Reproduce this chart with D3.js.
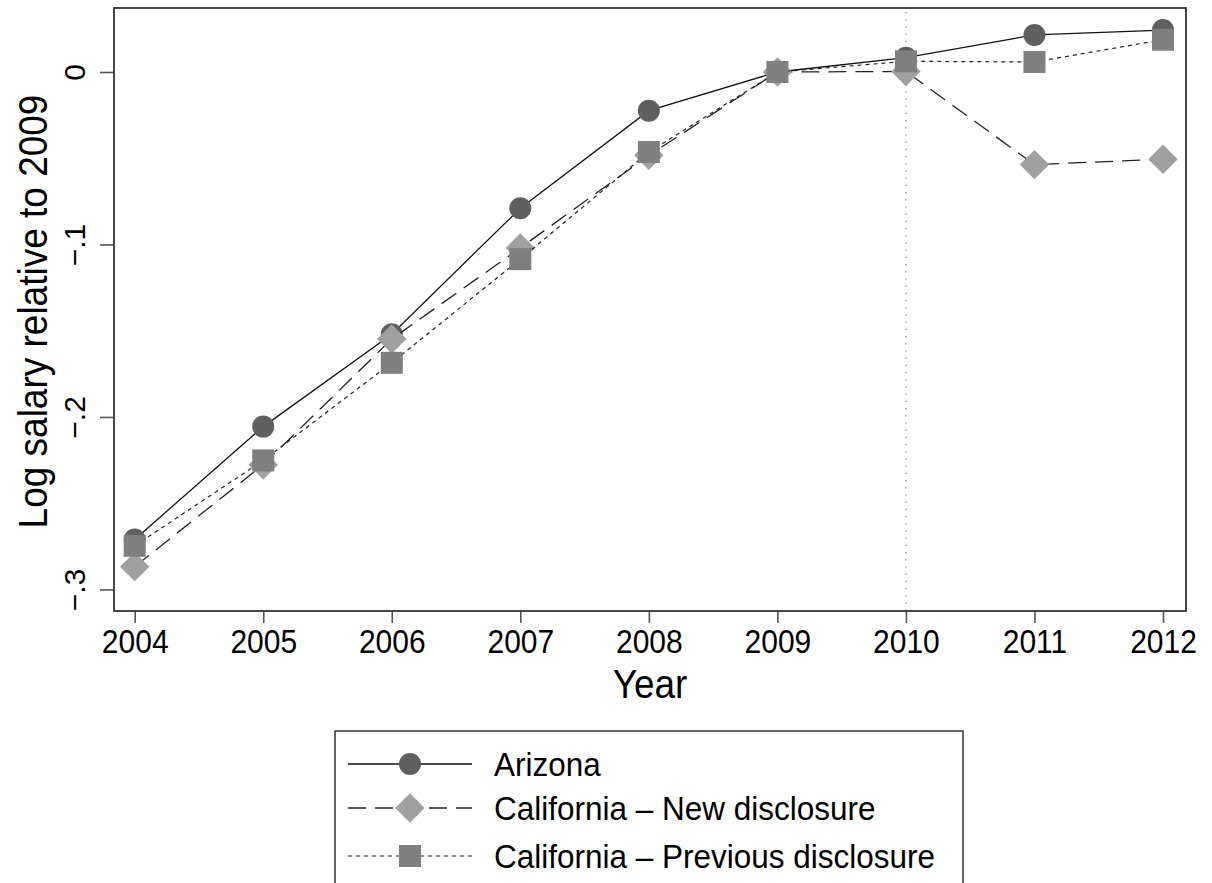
<!DOCTYPE html>
<html>
<head>
<meta charset="utf-8">
<script src="https://cdn.jsdelivr.net/npm/d3@7/dist/d3.min.js"></script>
<style>
  html, body { margin: 0; padding: 0; background: #fff; }
  svg { display: block; font-family: "Liberation Sans", Arial, Helvetica, sans-serif; }
</style>
</head>
<body>
<svg id="chart" width="1212" height="883"></svg>
<script>
// Years on the horizontal axis
const years = [2004, 2005, 2006, 2007, 2008, 2009, 2010, 2011, 2012];

// Log salary relative to 2009, one array per group
const arizona  = [-0.2710, -0.2056, -0.1520, -0.0790, -0.0224, 0, 0.0083, 0.0215, 0.0243];
const caNew    = [-0.2868, -0.2277, -0.1548, -0.1020, -0.0483, 0, 0.0003, -0.0537, -0.0506];
const caPrev   = [-0.2747, -0.2252, -0.1686, -0.1085, -0.0464, 0, 0.0062, 0.0058, 0.0187];

// Axis ticks and labels
const yTicks = [0, -0.1, -0.2, -0.3];
const yTickLabels = ["0", "\u2212.1", "\u2212.2", "\u2212.3"];
const xTicks = years;
const eventYear = 2010;

const seriesNames = ["Arizona", "California \u2013 New disclosure", "California \u2013 Previous disclosure"];

const svg = d3.select("#chart");

// Plot frame and scales
const frame = { left: 114, right: 1186, top: 8, bottom: 611 };
const x = d3.scaleLinear().domain([2004, 2012]).range([134.7, 1163]);
const y = d3.scaleLinear().domain([-0.3125, 0.0371]).range([frame.bottom, frame.top]);

// Text is drawn slightly taller than wide
const textStretch = 1.08;

svg.append("rect").attr("width", 1212).attr("height", 883).attr("fill", "#fff");

// Vertical reference line at the disclosure year
svg.append("line")
  .attr("x1", x(eventYear)).attr("x2", x(eventYear))
  .attr("y1", frame.top + 4).attr("y2", frame.bottom)
  .attr("stroke", "#777").attr("stroke-width", 1.2)
  .attr("stroke-dasharray", "1.2,6");

// Axes
const yAxis = d3.axisLeft(y).tickValues(yTicks).tickSize(14).tickPadding(0)
  .tickFormat((d, i) => yTickLabels[i]);
const gy = svg.append("g").attr("transform", `translate(${frame.left},0)`).call(yAxis);
gy.select(".domain").remove();
gy.selectAll(".tick line").attr("stroke", "#555").attr("stroke-width", 1.6);
gy.selectAll(".tick text")
  .attr("x", null).attr("dy", null)
  .attr("transform", "translate(-29,0) rotate(-90)")
  .attr("text-anchor", "middle")
  .attr("font-size", 30)
  .attr("fill", "#000");

const xAxis = d3.axisBottom(x).tickValues(xTicks).tickSize(12).tickPadding(0)
  .tickFormat(d3.format("d"));
const gx = svg.append("g").attr("transform", `translate(0,${frame.bottom})`).call(xAxis);
gx.select(".domain").remove();
gx.selectAll(".tick line").attr("stroke", "#555").attr("stroke-width", 1.6);
gx.selectAll(".tick text")
  .attr("y", null).attr("dy", null)
  .attr("transform", `translate(0,42) scale(1,${textStretch})`)
  .attr("font-size", 30)
  .attr("fill", "#000");

// Frame box
svg.append("rect")
  .attr("x", frame.left).attr("y", frame.top)
  .attr("width", frame.right - frame.left).attr("height", frame.bottom - frame.top)
  .attr("fill", "none").attr("stroke", "#333").attr("stroke-width", 1.8);

// Axis titles
svg.append("text")
  .attr("transform", `translate(47,${(frame.top + frame.bottom) / 2 + 2}) rotate(-90) scale(1,1.12)`)
  .attr("text-anchor", "middle").attr("font-size", 37).attr("fill", "#000")
  .text("Log salary relative to 2009");
svg.append("text")
  .attr("transform", `translate(${(frame.left + frame.right) / 2},698) scale(1,${textStretch})`)
  .attr("text-anchor", "middle").attr("font-size", 37).attr("fill", "#000")
  .text("Year");

// Series styles
const series = [
  { name: seriesNames[0], values: arizona, shape: "circle",  fill: "#5f5f5f", dash: null,   stroke: "#111", width: 1.3 },
  { name: seriesNames[1], values: caNew,   shape: "diamond", fill: "#a0a0a0", dash: "18,9", stroke: "#222", width: 1.3 },
  { name: seriesNames[2], values: caPrev,  shape: "square",  fill: "#7f7f7f", dash: "4,4",  stroke: "#222", width: 1.2 }
];

function drawMarker(g, shape, cx, cy, fill) {
  if (shape === "circle") {
    g.append("circle").attr("cx", cx).attr("cy", cy).attr("r", 11).attr("fill", fill);
  } else if (shape === "square") {
    g.append("rect").attr("x", cx - 11).attr("y", cy - 11).attr("width", 22).attr("height", 22).attr("fill", fill);
  } else {
    const h = 14.7;
    g.append("path")
      .attr("d", `M${cx},${cy - h}L${cx + h},${cy}L${cx},${cy + h}L${cx - h},${cy}Z`)
      .attr("fill", fill);
  }
}

const line = d3.line().x(d => x(d[0])).y(d => y(d[1]));

series.forEach(s => {
  const g = svg.append("g");
  const pts = years.map((yr, i) => [yr, s.values[i]]);
  g.append("path")
    .attr("d", line(pts))
    .attr("fill", "none")
    .attr("stroke", s.stroke)
    .attr("stroke-width", s.width)
    .attr("stroke-dasharray", s.dash);
  pts.forEach(p => drawMarker(g, s.shape, x(p[0]), y(p[1]), s.fill));
});

// Legend
const legend = svg.append("g");
legend.append("rect")
  .attr("x", 335).attr("y", 731).attr("width", 628).attr("height", 170)
  .attr("fill", "#fff").attr("stroke", "#333").attr("stroke-width", 1.5);

const rowY = [764, 808, 856];
series.forEach((s, i) => {
  const cy = rowY[i];
  legend.append("line")
    .attr("x1", 348).attr("x2", 472).attr("y1", cy).attr("y2", cy)
    .attr("stroke", s.stroke).attr("stroke-width", s.width)
    .attr("stroke-dasharray", s.dash);
  drawMarker(legend, s.shape, 410, cy, s.fill);
  legend.append("text")
    .attr("transform", `translate(494,${cy + 12}) scale(1,${textStretch})`)
    .attr("font-size", 31.5).attr("fill", "#000")
    .text(s.name);
});
</script>
</body>
</html>
